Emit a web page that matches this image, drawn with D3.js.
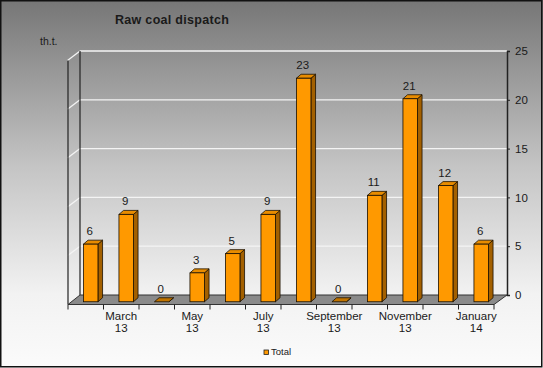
<html>
<head>
<meta charset="utf-8">
<title>Raw coal dispatch</title>
<script src="https://d3js.org/d3.v7.min.js"></script>
<style>
  body { margin: 0; }
  text { font-family: "Liberation Sans", Arial, sans-serif; fill: #1a1a1a; }
</style>
</head>
<body>
<script>
// data
var months = ["February", "March", "April", "May", "June", "July", "August",
              "September", "October", "November", "December", "January"];
var years = ["13", "13", "13", "13", "13", "13", "13", "13", "13", "13", "13", "14"];
var values = [5.9, 8.95, 0, 2.96, 4.93, 8.95, 22.9, 0, 10.9, 20.8, 11.9, 5.9];
var yTicks = [0, 5, 10, 15, 20, 25];
var seriesName = "Total";

var w = 543, h = 368;
// 3d box: back wall and front plane
var backL = 80, backR = 507;
var frontL = 68, frontR = 494;
var dx = 12.5, dy = 9.5;       // depth offset (back -> front)
var barDx = 4.6, barDy = 4;    // bar depth
var barW = 14.5;

var svg = d3.select("body").append("svg")
  .attr("width", w).attr("height", h);

var defs = svg.append("defs");
var bg = defs.append("linearGradient").attr("id", "bg")
  .attr("x1", 0).attr("y1", 0).attr("x2", 0).attr("y2", 1);
bg.append("stop").attr("offset", "0%").attr("stop-color", "#767676");
bg.append("stop").attr("offset", "45%").attr("stop-color", "#c4c4c4");
bg.append("stop").attr("offset", "80%").attr("stop-color", "#f2f2f2");
bg.append("stop").attr("offset", "100%").attr("stop-color", "#fbfbfb");

svg.append("rect").attr("width", w).attr("height", h).attr("fill", "url(#bg)");
svg.append("rect").attr("x", 0.75).attr("y", 0.75)
  .attr("width", w - 2).attr("height", h - 2)
  .attr("fill", "none").attr("stroke", "#111").attr("stroke-width", 1.5);

// scales
var y = d3.scaleLinear().domain([0, 25]).range([295, 51]);
var x = d3.scaleBand().domain(d3.range(months.length)).range([frontL, frontR]);

// title
svg.append("text").text("Raw coal dispatch")
  .attr("x", 115).attr("y", 24)
  .attr("font-size", "12.5px").attr("font-weight", "bold")
  .attr("letter-spacing", "0.3px");
svg.append("text").text("th.t.")
  .attr("x", 40).attr("y", 45).attr("font-size", "10.5px");

// gridlines on back wall + left wall
var grid = svg.append("g");
yTicks.filter(function(t){ return t > 0; }).forEach(function(t) {
  grid.append("line")
    .attr("x1", backL).attr("x2", backR)
    .attr("y1", y(t)).attr("y2", y(t))
    .attr("stroke", "#f4f4f4").attr("stroke-width", 1.3);
  grid.append("line")
    .attr("x1", backL).attr("y1", y(t))
    .attr("x2", backL - dx).attr("y2", y(t) + dy)
    .attr("stroke", "#f4f4f4").attr("stroke-width", 1.3);
});

// left wall edges
svg.append("line").attr("x1", backL).attr("x2", backL)
  .attr("y1", y(25)).attr("y2", y(0)).attr("stroke", "#222").attr("stroke-width", 1.2);
svg.append("line").attr("x1", frontL).attr("x2", frontL)
  .attr("y1", y(25) + dy).attr("y2", y(0) + dy).attr("stroke", "#222").attr("stroke-width", 1.2);

// floor
svg.append("polygon")
  .attr("points", [[backL, y(0)], [backR, y(0)], [frontR, y(0) + dy], [frontL, y(0) + dy]].join(" "))
  .attr("fill", "#8a8a8a").attr("stroke", "#333").attr("stroke-width", 1);

// right axis
var axisR = d3.axisRight(y).tickValues(yTicks).tickSize(3).tickPadding(5);
var ga = svg.append("g").attr("transform", "translate(" + backR + ",0)").call(axisR);
ga.select(".domain").attr("stroke", "#222").attr("stroke-width", 1.5);
ga.selectAll(".tick line").attr("stroke", "#222");
ga.selectAll(".tick text").attr("font-size", "11.5px")
  .attr("font-family", "Liberation Sans, Arial, sans-serif").attr("fill", "#1a1a1a");

// x axis ticks (band boundaries on front edge)
var xTickPos = d3.range(months.length + 1).map(function(i){ return frontL + i * x.bandwidth(); });
svg.append("g").selectAll("line").data(xTickPos).enter().append("line")
  .attr("x1", function(d){ return d; }).attr("x2", function(d){ return d; })
  .attr("y1", y(0) + dy).attr("y2", y(0) + dy + 5)
  .attr("stroke", "#222");

var xl = svg.append("g").selectAll("text")
  .data(d3.range(months.length).filter(function(i){ return i % 2 === 1; }))
  .enter().append("text")
  .attr("text-anchor", "middle").attr("font-size", "11.5px")
  .attr("transform", function(i){ return "translate(" + (x(i) + x.bandwidth() / 2) + ",0)"; });
xl.append("tspan").attr("x", 0).attr("y", 320).text(function(i){ return months[i]; });
xl.append("tspan").attr("x", 0).attr("y", 332).text(function(i){ return years[i]; });

// bars (3d)
var shiftX = (dx - barDx) / 2, shiftY = (dy - barDy) / 2;
var base = y(0) + dy - shiftY;
var bars = svg.append("g").selectAll("g").data(values).enter().append("g")
  .attr("transform", function(d, i) {
    return "translate(" + (x(i) + (x.bandwidth() - barW) / 2 + shiftX + 1) + ",0)";
  });

function topY(d) { return base - (y(0) - y(d)); }

bars.append("polygon")  // side
  .attr("points", function(d) {
    var t = topY(d);
    return [[barW, t], [barW + barDx, t - barDy], [barW + barDx, base - barDy], [barW, base]].join(" ");
  })
  .attr("fill", "#a36000").attr("stroke", "#1a1000").attr("stroke-width", 0.8);
bars.append("polygon")  // top
  .attr("points", function(d) {
    var t = topY(d);
    return [[0, t], [barDx, t - barDy], [barW + barDx, t - barDy], [barW, t]].join(" ");
  })
  .attr("fill", function(d){ return d > 0 ? "#e88c00" : "#c07400"; })
  .attr("stroke", "#1a1000").attr("stroke-width", 0.8);
bars.filter(function(d){ return d > 0; }).append("rect")  // front
  .attr("x", 0).attr("y", function(d){ return topY(d); })
  .attr("width", barW).attr("height", function(d){ return base - topY(d); })
  .attr("fill", "#ff9900").attr("stroke", "#1a1000").attr("stroke-width", 0.8);

bars.append("text")
  .attr("x", barW / 2 - 1)
  .attr("y", function(d){ return topY(d) - barDy - 5; })
  .attr("text-anchor", "middle").attr("font-size", "11.5px")
  .text(function(d){ return d3.format(".0f")(d); });

// legend
var lg = svg.append("g").attr("transform", "translate(264,350)");
lg.append("rect").attr("width", 4.5).attr("height", 4.5)
  .attr("fill", "#ff9900").attr("stroke", "#222").attr("stroke-width", 0.8);
lg.append("text").attr("x", 7).attr("y", 5).attr("font-size", "9.5px").text(seriesName);
</script>
</body>
</html>
